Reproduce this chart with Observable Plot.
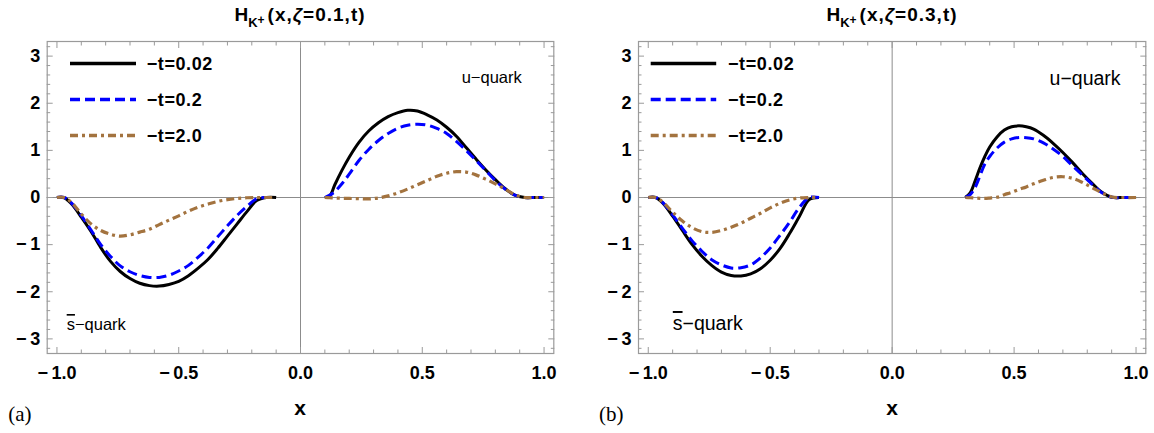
<!DOCTYPE html>
<html>
<head>
<meta charset="utf-8">
<script src="https://cdn.jsdelivr.net/npm/d3@7"></script>
<script src="https://cdn.jsdelivr.net/npm/@observablehq/plot@0.6"></script>
<style>
  html, body { margin: 0; padding: 0; background: #fff; }
  #wrap { position: relative; width: 1154px; height: 433px; overflow: hidden; background: #fff; }
  #wrap > svg { position: absolute; top: 0; }
</style>
</head>
<body>
<div id="wrap"></div>
<script>
// ---------- data ----------
const seriesLabels = ["\u2212t=0.02", "\u2212t=0.2", "\u2212t=2.0"];
const panelTitles = ["\u03B6=0.1", "\u03B6=0.3"];
const panelTags = ["(a)", "(b)"];

// panel (a): zeta = 0.1
const xS_a = [-1, -0.97, -0.94, -0.9, -0.86, -0.82, -0.78, -0.74, -0.7, -0.66, -0.62, -0.58, -0.54, -0.5, -0.46, -0.42, -0.38, -0.34, -0.3, -0.26, -0.22, -0.18, -0.14, -0.1];
const sA_t002 = [0, -0.005, -0.14, -0.415, -0.72, -1.065, -1.355, -1.57, -1.72, -1.82, -1.87, -1.88, -1.845, -1.78, -1.66, -1.50, -1.315, -1.08, -0.82, -0.56, -0.30, -0.065, 0, 0];
const sA_t02  = [0, 0, -0.12, -0.385, -0.69, -1.0, -1.25, -1.45, -1.575, -1.655, -1.695, -1.695, -1.65, -1.56, -1.44, -1.265, -1.07, -0.835, -0.60, -0.38, -0.19, -0.025, 0, 0];
const sA_t20  = [0, 0, -0.105, -0.35, -0.56, -0.70, -0.78, -0.82, -0.79, -0.735, -0.672, -0.575, -0.48, -0.39, -0.29, -0.205, -0.14, -0.083, -0.045, -0.02, -0.005, 0, 0, 0];

const xU_a = [0.1, 0.12, 0.14, 0.17, 0.2, 0.24, 0.28, 0.32, 0.36, 0.4, 0.44, 0.48, 0.52, 0.56, 0.6, 0.64, 0.68, 0.72, 0.76, 0.8, 0.84, 0.88, 0.92, 0.96, 1.0];
const uA_t002 = [0, 0.03, 0.26, 0.575, 0.855, 1.17, 1.41, 1.585, 1.715, 1.80, 1.85, 1.835, 1.755, 1.645, 1.49, 1.30, 1.06, 0.82, 0.59, 0.38, 0.19, 0.05, 0, 0, 0];
const uA_t02  = [0, 0.05, 0.12, 0.29, 0.495, 0.785, 1.02, 1.21, 1.36, 1.47, 1.535, 1.555, 1.537, 1.465, 1.36, 1.19, 1.0, 0.79, 0.575, 0.36, 0.18, 0.05, 0, 0, 0];
const uA_t20  = [0, -0.005, -0.01, -0.015, -0.02, -0.025, -0.03, -0.01, 0.035, 0.10, 0.18, 0.27, 0.36, 0.45, 0.515, 0.548, 0.54, 0.48, 0.39, 0.29, 0.18, 0.06, 0, 0, 0];

// panel (b): zeta = 0.3
const xS_b = [-1, -0.97, -0.94, -0.9, -0.86, -0.82, -0.78, -0.74, -0.7, -0.66, -0.62, -0.58, -0.54, -0.5, -0.46, -0.42, -0.38, -0.34, -0.3];
const sB_t002 = [0, 0, -0.12, -0.395, -0.70, -1.0, -1.245, -1.44, -1.585, -1.655, -1.665, -1.62, -1.51, -1.33, -1.085, -0.76, -0.40, -0.045, 0];
const sB_t02  = [0, 0, -0.11, -0.37, -0.655, -0.92, -1.14, -1.32, -1.43, -1.495, -1.49, -1.43, -1.28, -1.07, -0.805, -0.52, -0.21, 0, 0];
const sB_t20  = [0, 0, -0.10, -0.31, -0.50, -0.64, -0.725, -0.74, -0.70, -0.63, -0.545, -0.44, -0.335, -0.22, -0.125, -0.05, -0.01, 0, 0];

const xU_b = [0.3, 0.32, 0.34, 0.36, 0.38, 0.4, 0.43, 0.46, 0.49, 0.52, 0.55, 0.58, 0.62, 0.66, 0.7, 0.74, 0.78, 0.82, 0.86, 0.9, 0.95, 1.0];
const uB_t002 = [0, 0.1, 0.35, 0.63, 0.87, 1.07, 1.285, 1.43, 1.50, 1.52, 1.50, 1.45, 1.32, 1.15, 0.955, 0.74, 0.51, 0.30, 0.11, 0.005, 0, 0];
const uB_t02  = [0, 0.06, 0.21, 0.46, 0.71, 0.87, 1.05, 1.175, 1.245, 1.275, 1.27, 1.245, 1.16, 1.03, 0.87, 0.67, 0.475, 0.28, 0.10, 0.005, 0, 0];
const uB_t20  = [0, -0.005, -0.012, -0.018, -0.02, -0.012, 0.005, 0.06, 0.11, 0.17, 0.225, 0.29, 0.365, 0.425, 0.44, 0.405, 0.32, 0.21, 0.10, 0.01, 0, 0];

// ticks
const xMajor = [-1, -0.5, 0, 0.5, 1];
const xMajorLabels = ["\u2212\u20091.0", "\u2212\u20090.5", "0.0", "0.5", "1.0"];
const xMinor = [-0.9, -0.8, -0.7, -0.6, -0.4, -0.3, -0.2, -0.1, 0.1, 0.2, 0.3, 0.4, 0.6, 0.7, 0.8, 0.9];
const yMajor = [-3, -2, -1, 0, 1, 2, 3];
const yMajorLabels = ["\u2212\u20093", "\u2212\u20092", "\u2212\u20091", "0", "1", "2", "3"];
const yMinor = [-3.2, -2.8, -2.6, -2.4, -2.2, -1.8, -1.6, -1.4, -1.2, -0.8, -0.6, -0.4, -0.2, 0.2, 0.4, 0.6, 0.8, 1.2, 1.4, 1.6, 1.8, 2.2, 2.4, 2.6, 2.8, 3.2];

// ---------- styling ----------
const styles = [
  {stroke: "#000000", strokeWidth: 3, dash: null},
  {stroke: "#0000ff", strokeWidth: 3, dash: "10,5"},
  {stroke: "#a3733f", strokeWidth: 3.2, dash: "8,4,3,4"}
];
const FONT = "'Liberation Sans', Arial, Helvetica, sans-serif";
const GRAY = "#9a9a9a";

function buildRows(xs, sSeries, xu, uSeries) {
  const rows = [];
  seriesLabels.forEach((lab, k) => {
    xs.forEach((x, i) => rows.push({x, y: sSeries[k][i], t: lab, part: "s"}));
    xu.forEach((x, i) => rows.push({x, y: uSeries[k][i], t: lab, part: "u"}));
  });
  return rows;
}

const panels = [
  {rows: buildRows(xS_a, [sA_t002, sA_t02, sA_t20], xU_a, [uA_t002, uA_t02, uA_t20]), left: 0, ml: 46.7, mr: 23.7},
  {rows: buildRows(xS_b, [sB_t002, sB_t02, sB_t20], xU_b, [uB_t002, uB_t02, uB_t20]), left: 577, ml: 61, mr: 8.7}
];

const W = 577, H = 433, MT = 41, MB = 80;
const wrap = document.getElementById("wrap");

panels.forEach(p => {
  const tickOpts = {text: null, stroke: GRAY, strokeWidth: 1, label: null};
  const chart = Plot.plot({
    width: W, height: H,
    marginTop: MT, marginBottom: MB, marginLeft: p.ml, marginRight: p.mr,
    x: {domain: [-1.04, 1.04]},
    y: {domain: [-3.31, 3.31]},
    style: {fontFamily: FONT, color: "#000", background: "transparent", overflow: "visible"},
    marks: [
      Plot.ruleX([0], {stroke: "#8c8c8c", strokeWidth: 1}),
      Plot.ruleY([0], {stroke: "#8c8c8c", strokeWidth: 1}),
      Plot.axisX(xMajor, {...tickOpts, anchor: "bottom", tickSize: -6}),
      Plot.axisX(xMinor, {...tickOpts, anchor: "bottom", tickSize: -3.5}),
      Plot.axisX(xMajor, {...tickOpts, anchor: "top", tickSize: -6}),
      Plot.axisX(xMinor, {...tickOpts, anchor: "top", tickSize: -3.5}),
      Plot.axisY(yMajor, {...tickOpts, anchor: "left", tickSize: -6}),
      Plot.axisY(yMinor, {...tickOpts, anchor: "left", tickSize: -3.5}),
      Plot.axisY(yMajor, {...tickOpts, anchor: "right", tickSize: -6}),
      Plot.axisY(yMinor, {...tickOpts, anchor: "right", tickSize: -3.5}),
      Plot.axisX(xMajor, {anchor: "bottom", tickSize: 0, tickPadding: 13, label: null,
        tickFormat: d => xMajorLabels[xMajor.indexOf(d)], fontSize: 18, fontWeight: "bold", fill: "#000"}),
      Plot.axisY(yMajor, {anchor: "left", tickSize: 0, tickPadding: 7, label: null,
        tickFormat: d => yMajorLabels[yMajor.indexOf(d)], fontSize: 18, fontWeight: "bold", fill: "#000"}),
      ...seriesLabels.map((lab, k) => Plot.line(p.rows.filter(d => d.t === lab), {
        x: "x", y: "y", z: "part", curve: "catmull-rom",
        stroke: styles[k].stroke, strokeWidth: styles[k].strokeWidth,
        strokeDasharray: styles[k].dash, strokeLinecap: "butt"
      })),
      Plot.frame({stroke: GRAY, strokeWidth: 1.2})
    ]
  });
  chart.style.left = p.left + "px";
  wrap.appendChild(chart);
});

// ---------- overlay: titles, legends, annotations ----------
const ov = d3.select(wrap).append("svg")
  .attr("width", 1154).attr("height", 433)
  .style("left", "0px").style("pointer-events", "none")
  .style("font-family", FONT);

const ann = [
  {cx: 300, tag: 8.3, legLine: [70, 136], legText: 146.7,
   u: {x: 461.7, y: 83.3, fs: 16.5}, s: {x: 66.7, y: 330, fs: 16.5}},
  {cx: 892, tag: 599, legLine: [650.7, 716.2], legText: 728,
   u: {x: 1049.6, y: 85, fs: 19.5}, s: {x: 672.8, y: 330, fs: 19.5}}
];
const legY = [63.5, 99.5, 135.5];

ann.forEach((a, i) => {
  // title
  const t = ov.append("text").attr("x", a.cx).attr("y", 21).attr("text-anchor", "middle")
    .attr("font-weight", "bold").attr("font-size", 19);
  t.append("tspan").text("H");
  t.append("tspan").attr("font-size", 13).attr("dy", 6).text("K");
  t.append("tspan").attr("font-size", 12).attr("dy", -3.5).text("+");
  t.append("tspan").attr("font-size", 19).attr("dy", -2.5).attr("dx", 3)
    .attr("letter-spacing", 1).text("(x,");
  t.append("tspan").attr("font-style", "italic").attr("letter-spacing", 1).text("\u03B6");
  t.append("tspan").attr("letter-spacing", 1).text(panelTitles[i].slice(1) + ",t)");

  // panel tag
  ov.append("text").attr("x", a.tag).attr("y", 421)
    .attr("font-family", "'Liberation Serif', 'Times New Roman', serif")
    .attr("font-size", 21).text(panelTags[i]);

  // x label
  ov.append("text").attr("x", a.cx).attr("y", 415).attr("text-anchor", "middle")
    .attr("font-weight", "bold").attr("font-size", 21).text("x");

  // legend
  seriesLabels.forEach((lab, k) => {
    ov.append("line").attr("x1", a.legLine[0]).attr("x2", a.legLine[1])
      .attr("y1", legY[k]).attr("y2", legY[k])
      .attr("stroke", styles[k].stroke).attr("stroke-width", styles[k].strokeWidth + 0.5)
      .attr("stroke-dasharray", styles[k].dash);
    ov.append("text").attr("x", a.legText).attr("y", legY[k]).attr("dy", "0.36em")
      .attr("font-weight", "bold").attr("font-size", 18).attr("letter-spacing", 0.6).text(lab);
  });

  // quark labels
  ov.append("text").attr("x", a.u.x).attr("y", a.u.y).attr("font-size", a.u.fs).text("u\u2212quark");
  const s = ov.append("text").attr("x", a.s.x).attr("y", a.s.y).attr("font-size", a.s.fs);
  s.append("tspan").style("text-decoration", "overline").text("s");
  s.append("tspan").text("\u2212quark");
});
</script>
</body>
</html>
